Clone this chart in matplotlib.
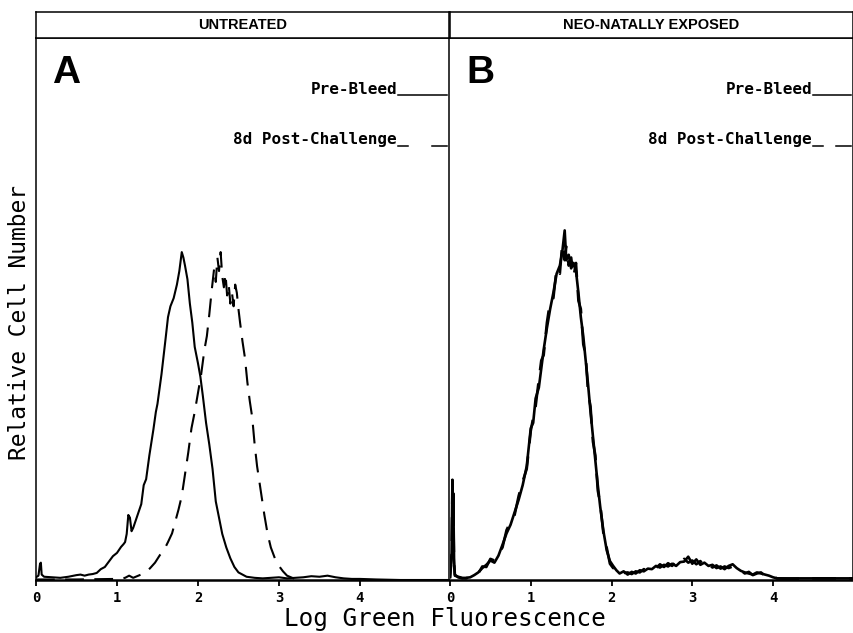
import matplotlib
matplotlib.use("Agg")
import matplotlib.pyplot as plt
from matplotlib.lines import Line2D

# ---- data (y in relative units 0-100) ----
panel_titles = ["UNTREATED", "NEO-NATALLY EXPOSED"]
panel_letters = ["A", "B"]
legend_labels = ["Pre-Bleed", "8d Post-Challenge"]
tick_vals = [0, 1, 2, 3, 4]

a_pre_x = [0.00, 0.03, 0.05, 0.06, 0.07, 0.10, 0.20, 0.30, 0.40, 0.50, 0.55, 0.60,
           0.65, 0.70, 0.75, 0.80, 0.85, 0.90, 0.95, 1.00, 1.05, 1.08, 1.10, 1.12,
           1.14, 1.16, 1.18, 1.20, 1.25, 1.30, 1.33, 1.36, 1.40, 1.45, 1.48, 1.50,
           1.55, 1.60, 1.63, 1.66, 1.70, 1.74, 1.77, 1.80, 1.82, 1.84, 1.87, 1.90,
           1.93, 1.96, 2.00, 2.03, 2.06, 2.10, 2.14, 2.18, 2.22, 2.26, 2.30, 2.35,
           2.40, 2.45, 2.50, 2.55, 2.60, 2.70, 2.80, 2.90, 3.00, 3.10, 3.20, 3.30,
           3.40, 3.50, 3.60, 3.70, 3.80, 3.90, 4.00, 4.20, 4.50, 5.10]
a_pre_y = [0.5, 0.8, 3.0, 3.2, 1.0, 0.6, 0.5, 0.4, 0.6, 0.9, 1.0, 0.8,
           1.0, 1.1, 1.3, 2.0, 2.4, 3.4, 4.4, 5.0, 6.1, 6.6, 7.0, 8.5,
           12.0, 11.5, 9.0, 9.6, 11.8, 14.0, 17.5, 18.6, 23.0, 27.8, 31.0, 32.5,
           38.0, 44.5, 48.5, 50.5, 52.0, 54.5, 57.0, 60.5, 59.5, 58.0, 55.5, 51.0,
           47.5, 43.0, 40.0, 37.5, 34.0, 29.0, 25.0, 20.5, 14.5, 11.5, 8.5, 6.0,
           4.0, 2.4, 1.4, 1.0, 0.6, 0.4, 0.3, 0.4, 0.5, 0.3, 0.4, 0.5,
           0.7, 0.6, 0.8, 0.5, 0.3, 0.2, 0.2, 0.1, 0.0, 0.0]

a_post_x = [0.00, 0.50, 1.00, 1.10, 1.15, 1.20, 1.28, 1.35, 1.41, 1.47, 1.53, 1.58,
            1.63, 1.68, 1.72, 1.76, 1.80, 1.84, 1.88, 1.92, 1.96, 2.00, 2.04, 2.08,
            2.11, 2.14, 2.17, 2.20, 2.22, 2.24, 2.26, 2.28, 2.30, 2.32, 2.34, 2.36,
            2.38, 2.40, 2.42, 2.44, 2.46, 2.48, 2.50, 2.52, 2.55, 2.58, 2.61, 2.64,
            2.67, 2.70, 2.73, 2.76, 2.79, 2.82, 2.86, 2.90, 2.95, 3.00, 3.05, 3.10,
            3.18, 3.30]
a_post_y = [0.1, 0.1, 0.2, 0.4, 0.8, 0.4, 0.9, 1.3, 2.2, 3.2, 4.6, 5.5,
            7.0, 8.6, 10.8, 13.0, 15.5, 19.5, 23.5, 28.0, 31.0, 34.5, 38.0, 42.5,
            45.0, 49.0, 53.5, 57.5, 55.0, 59.5, 57.0, 60.5, 56.0, 54.0, 56.5, 52.5,
            54.5, 51.0, 53.0, 50.5, 54.5, 53.0, 50.0, 47.5, 44.0, 41.0, 36.5, 33.0,
            30.0, 25.0, 21.0, 18.0, 15.0, 12.0, 8.5, 6.0, 4.0, 2.6, 1.6, 0.8,
            0.3, 0.1]

b_x = [0.00, 0.02, 0.03, 0.035, 0.04, 0.05, 0.06, 0.10, 0.15, 0.20, 0.25, 0.30,
       0.35, 0.40, 0.45, 0.50, 0.55, 0.60, 0.65, 0.70, 0.75, 0.80, 0.85, 0.90,
       0.95, 1.00, 1.03, 1.06, 1.10, 1.13, 1.16, 1.20, 1.24, 1.28, 1.32, 1.36,
       1.39, 1.42, 1.44, 1.47, 1.50, 1.53, 1.56, 1.59, 1.62, 1.65, 1.68, 1.71,
       1.74, 1.77, 1.80, 1.83, 1.86, 1.90, 1.94, 1.98, 2.02, 2.06, 2.10, 2.15,
       2.20, 2.25, 2.30, 2.35, 2.40, 2.45, 2.50, 2.55, 2.60, 2.65, 2.70, 2.75,
       2.80, 2.85, 2.90, 2.95, 3.00, 3.05, 3.10, 3.15, 3.20, 3.25, 3.30, 3.35,
       3.40, 3.45, 3.50, 3.55, 3.60, 3.65, 3.70, 3.75, 3.80, 3.85, 3.90, 3.95,
       4.00, 4.05, 4.20, 4.50, 5.00]
b_pre_y = [0.5, 5.0, 18.5, 10.0, 16.0, 4.0, 1.0, 0.5, 0.3, 0.4, 0.5, 0.9,
           1.4, 2.2, 2.8, 3.6, 3.2, 4.5, 6.5, 8.6, 10.2, 12.5, 14.8, 17.5,
           21.0, 28.0, 29.0, 33.5, 35.5, 39.0, 42.5, 46.5, 50.0, 53.0, 56.5, 58.0,
           60.5, 64.5, 59.0, 60.0, 57.5, 58.5, 57.0, 53.0, 48.5, 45.0, 40.5, 36.0,
           31.0, 26.5, 22.0, 17.5, 13.5, 9.0, 5.5, 3.5, 2.6, 1.8, 1.2, 1.6,
           1.0, 1.5, 1.2, 1.8, 1.6, 2.1, 2.0, 2.6, 2.3, 2.8, 2.5, 3.0,
           2.6, 3.3, 3.4, 4.3, 3.0, 3.8, 2.8, 3.2, 2.6, 2.8, 2.2, 2.5,
           2.0, 2.6, 2.9, 2.2, 1.7, 1.4, 1.2, 1.0, 1.4, 1.2, 1.0, 0.8,
           0.5, 0.3, 0.3, 0.3, 0.3]
b_post_y = [0.4, 4.0, 17.0, 9.0, 14.0, 3.0, 0.8, 0.6, 0.4, 0.3, 0.6, 1.1,
            1.2, 2.5, 2.4, 3.9, 3.6, 4.9, 6.0, 9.2, 10.8, 12.0, 15.5, 18.2,
            20.5, 27.5, 30.0, 32.0, 37.0, 40.5, 41.5, 47.5, 51.5, 52.0, 57.5, 56.5,
            62.0, 59.0, 61.5, 58.0, 59.5, 56.0, 58.5, 51.5, 50.0, 43.5, 41.5, 34.5,
            32.0, 25.5, 23.0, 16.5, 14.0, 8.5, 6.0, 3.0, 2.2, 2.0, 1.0, 1.3,
            1.4, 1.1, 1.6, 1.4, 2.0, 1.8, 2.4, 2.2, 2.9, 2.4, 3.1, 2.6,
            3.4, 2.9, 3.9, 3.2, 3.6, 2.9, 3.5, 2.5, 3.0, 2.3, 2.7, 2.1,
            2.5, 2.2, 2.5, 1.9, 1.8, 1.2, 1.5, 0.9, 1.2, 1.4, 0.8, 1.0,
            0.6, 0.3, 0.2, 0.3, 0.3]

# ---- layout (pixels of an 854x633 canvas) ----
W, H = 854, 633
fig = plt.figure(figsize=(W / 100, H / 100), dpi=100)

def fbox(x0, x1, y_top, y_bot):
    return [x0 / W, 1 - y_bot / H, (x1 - x0) / W, (y_bot - y_top) / H]

panels = [(36, 449, 5.1), (450, 853, 4.99)]
series = [((a_pre_x, a_pre_y), (a_post_x, a_post_y)),
          ((b_x, b_pre_y), (b_x, b_post_y))]
line_w = [1.5, 1.9]

mono = "DejaVu Sans Mono"
for i, (x0, x1, xmax) in enumerate(panels):
    ax = fig.add_axes(fbox(x0, x1, 38, 580))
    (px, py), (qx, qy) = series[i]
    ax.plot(qx, qy, color="black", lw=line_w[i], linestyle=(0, (9, 5)))
    ax.plot(px, py, color="black", lw=line_w[i])
    ax.set_xlim(0, xmax)
    ax.set_ylim(0, 100)
    ax.set_yticks([])
    ax.set_xticks(tick_vals)
    ax.set_xticklabels([str(t) for t in tick_vals], fontfamily=mono,
                       fontweight="bold", fontsize=10)
    ax.tick_params(axis="x", direction="out", length=4, width=1.3, pad=4)
    for s in ax.spines.values():
        s.set_linewidth(1.1)
    ax.spines["bottom"].set_linewidth(1.8)
    if i == 1:
        ax.spines["left"].set_visible(False)

    # header band
    hx = fig.add_axes(fbox(x0, x1, 12, 38))
    hx.set_xticks([])
    hx.set_yticks([])
    for s in hx.spines.values():
        s.set_linewidth(1.1)
    hx.text(0.5, 0.5, panel_titles[i], ha="center", va="center",
            fontfamily="Liberation Sans", fontweight="bold", fontsize=10.5)

    # panel letter
    fig.text((x0 + 16) / W, 1 - 83 / H, panel_letters[i], ha="left", va="baseline",
             fontfamily="Liberation Sans", fontweight="bold", fontsize=28)

    # in-plot legend text with sample lines
    tx = x1 - 52 if i == 0 else x1 - 41
    fig.text(tx / W, 1 - 94 / H, legend_labels[0], ha="right", va="baseline",
             fontfamily=mono, fontweight="bold", fontsize=11.5)
    fig.text(tx / W, 1 - 144 / H, legend_labels[1], ha="right", va="baseline",
             fontfamily=mono, fontweight="bold", fontsize=11.5)
    fig.add_artist(Line2D([(tx + 1) / W, (x1 - 2) / W], [1 - 95 / H] * 2,
                          color="black", lw=1.1))
    fig.add_artist(Line2D([(tx + 1) / W, (tx + 11) / W], [1 - 146 / H] * 2,
                          color="black", lw=1.1))
    fig.add_artist(Line2D([(x1 - 17) / W, (x1 - 2) / W], [1 - 146 / H] * 2,
                          color="black", lw=1.1))

fig.text(444.5 / W, 1 - 619 / H, "Log Green Fluorescence", ha="center", va="center",
         fontfamily=mono, fontsize=17.5)
fig.text(19.5 / W, 1 - 322 / H, "Relative Cell Number", ha="center", va="center",
         rotation=90, fontfamily=mono, fontsize=16.5)

fig.savefig("out.png", dpi=100)
